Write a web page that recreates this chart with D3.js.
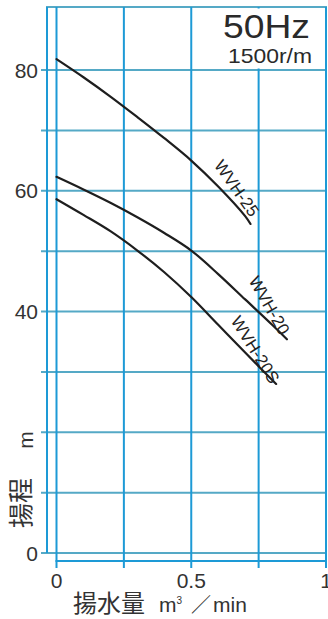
<!DOCTYPE html>
<html>
<head>
<meta charset="utf-8">
<script src="https://cdn.jsdelivr.net/npm/d3@7"></script>
<style>
  html, body { margin: 0; padding: 0; background: #fff; }
  svg { display: block; }
  text { font-family: "Liberation Sans", Arial, sans-serif; fill: #333; }
  .cjk { font-family: "Noto Sans CJK JP", "Noto Sans CJK SC", sans-serif; }
</style>
</head>
<body>
<svg id="chart" width="328" height="619"></svg>
<script>
// ---- data ----
const xTicks = [0, 0.25, 0.5, 0.75, 1];
const xTickLabels = ["0", "", "0.5", "", "1"];
const yTicks = [0, 10, 20, 30, 40, 50, 60, 70, 80];
const yTickLabels = ["0", "", "", "", "40", "", "60", "", "80"];

const seriesNames = ["WVH-25", "WVH-20", "WVH-20S"];
const flow25  = [0, 0.1, 0.2, 0.3, 0.4, 0.5, 0.6, 0.7, 0.72];
const head25  = [81.8, 78.8, 75.6, 72.2, 68.7, 65.0, 60.7, 55.8, 54.5];
const flow20  = [0, 0.1, 0.2, 0.3, 0.4, 0.5, 0.6, 0.7, 0.8, 0.855];
const head20  = [62.3, 60.2, 58.0, 55.6, 53.0, 50.1, 46.2, 42.0, 37.8, 35.4];
const flow20S = [0, 0.1, 0.2, 0.3, 0.4, 0.5, 0.6, 0.7, 0.815];
const head20S = [58.6, 56.0, 53.3, 50.1, 46.5, 42.4, 37.8, 33.2, 28.0];

const titleText = "50Hz";
const subtitleText = "1500r/m";

// ---- layout ----
const svg = d3.select("#chart");
const x = d3.scaleLinear().domain([0, 1]).range([56.5, 326]);
const y = d3.scaleLinear().domain([0, 80]).range([553, 70]);
const plotTop = 7;
const axisX = 47;
const axisY = 561;
const vColor = "#1d9ad6";
const hColor = "#55a9c6";

svg.append("rect").attr("width", 328).attr("height", 619).attr("fill", "#fff");

// horizontal gridlines (extend left as ticks)
svg.append("g").selectAll("line").data(yTicks).join("line")
  .attr("x1", 41).attr("x2", x(1))
  .attr("y1", d => y(d)).attr("y2", d => y(d))
  .attr("stroke", hColor).attr("stroke-width", 2);

// top border
svg.append("line").attr("x1", axisX - 1).attr("x2", x(1) + 1)
  .attr("y1", plotTop).attr("y2", plotTop)
  .attr("stroke", hColor).attr("stroke-width", 2);

// vertical gridlines (extend below as ticks)
svg.append("g").selectAll("line").data(xTicks).join("line")
  .attr("x1", d => x(d)).attr("x2", d => x(d))
  .attr("y1", plotTop).attr("y2", 568)
  .attr("stroke", vColor).attr("stroke-width", 2);

// y axis line
svg.append("line").attr("x1", axisX).attr("x2", axisX)
  .attr("y1", plotTop).attr("y2", y(0))
  .attr("stroke", vColor).attr("stroke-width", 2);

// x axis line
svg.append("line").attr("x1", x(0) - 1).attr("x2", x(1) + 1)
  .attr("y1", axisY).attr("y2", axisY)
  .attr("stroke", vColor).attr("stroke-width", 2);

// title box (covers gridlines)
svg.append("rect").attr("x", 200).attr("y", plotTop + 1.5)
  .attr("width", x(1) - 201).attr("height", 60)
  .attr("fill", "#fff");
svg.append("text").attr("x", 310).attr("y", 38)
  .attr("text-anchor", "end").attr("font-size", 33)
  .attr("textLength", 87).attr("lengthAdjust", "spacingAndGlyphs")
  .style("fill", "#2a2a2a")
  .text(titleText);
svg.append("text").attr("x", 312).attr("y", 63)
  .attr("text-anchor", "end").attr("font-size", 21)
  .attr("textLength", 84).attr("lengthAdjust", "spacingAndGlyphs")
  .style("fill", "#2a2a2a")
  .text(subtitleText);

// y tick labels
svg.append("g").selectAll("text").data(yTicks).join("text")
  .attr("x", 38).attr("y", d => y(d) + 7.5)
  .attr("text-anchor", "end").attr("font-size", 21)
  .text((d, i) => yTickLabels[i]);

// x tick labels
svg.append("g").selectAll("text").data(xTicks).join("text")
  .attr("x", d => x(d)).attr("y", 588)
  .attr("text-anchor", "middle").attr("font-size", 21)
  .text((d, i) => xTickLabels[i]);

// curves
const line = d3.line().x(d => x(d[0])).y(d => y(d[1])).curve(d3.curveCatmullRom.alpha(0.5));
const series = [
  d3.zip(flow25, head25),
  d3.zip(flow20, head20),
  d3.zip(flow20S, head20S)
];
svg.append("g").selectAll("path").data(series).join("path")
  .attr("d", line).attr("fill", "none")
  .attr("stroke", "#1e1e1e").attr("stroke-width", 2.2)
  .attr("stroke-linecap", "round");

// curve labels
const labelPos = [
  { cx: 236.5, cy: 188.5, rot: 55 },
  { cx: 269, cy: 305.5, rot: 60 },
  { cx: 255, cy: 350, rot: 58 }
];
svg.append("g").selectAll("text").data(seriesNames).join("text")
  .attr("transform", (d, i) => `translate(${labelPos[i].cx},${labelPos[i].cy}) rotate(${labelPos[i].rot})`)
  .attr("text-anchor", "middle").attr("dominant-baseline", "central")
  .attr("font-size", 17)
  .style("fill", "#222")
  .text(d => d);

// y axis title
svg.append("text").attr("class", "cjk")
  .attr("transform", "translate(30,503) rotate(-90)")
  .attr("text-anchor", "middle").attr("font-size", 25)
  .text("揚程");
svg.append("text")
  .attr("transform", "translate(33,440) rotate(-90)")
  .attr("text-anchor", "middle").attr("font-size", 21)
  .text("m");

// x axis title
svg.append("text").attr("class", "cjk")
  .attr("x", 73).attr("y", 612).attr("font-size", 24)
  .text("揚水量");
const xt = svg.append("text").attr("x", 159).attr("y", 612).attr("font-size", 21);
xt.append("tspan").text("m");
xt.append("tspan").attr("dy", -8).attr("font-size", 10).text("3");
svg.append("text").attr("class", "cjk")
  .attr("x", 191).attr("y", 612).attr("font-size", 20)
  .text("／");
svg.append("text").attr("x", 213).attr("y", 612).attr("font-size", 21)
  .text("min");
</script>
</body>
</html>
